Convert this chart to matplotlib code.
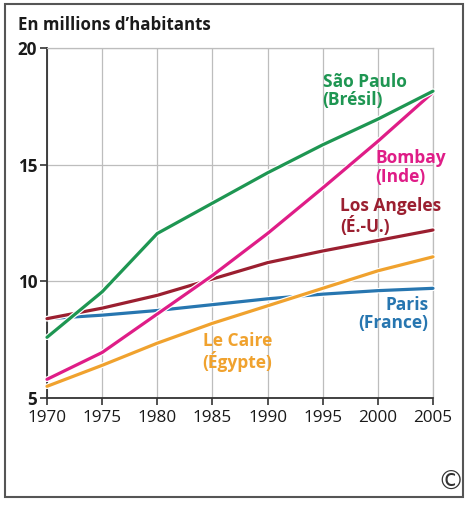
import matplotlib.pyplot as plt
import matplotlib.patheffects as pe
from matplotlib.patches import Rectangle

years = [1970, 1975, 1980, 1985, 1990, 1995, 2000, 2005]

# population, millions
sao_paulo = [7.6, 9.55, 12.05, 13.35, 14.65, 15.85, 16.95, 18.15]
bombay = [5.8, 6.95, 8.6, 10.25, 12.05, 14.0, 16.0, 18.1]
los_angeles = [8.4, 8.85, 9.4, 10.1, 10.8, 11.3, 11.75, 12.2]
paris = [8.4, 8.55, 8.75, 9.0, 9.25, 9.45, 9.6, 9.7]
le_caire = [5.5, 6.4, 7.35, 8.2, 8.95, 9.7, 10.45, 11.05]

green = '#1e9652'
magenta = '#df1d87'
darkred = '#9b1f30'
blue = '#2776b0'
orange = '#f0a22e'

plt.rcParams['font.family'] = ['Open Sans', 'DejaVu Sans']

fig = plt.figure(figsize=(4.71, 5.05), dpi=100)
ax = fig.add_axes([0.0998, 0.2119, 0.8195, 0.6931])

halo = [pe.Stroke(linewidth=4.0, foreground='white'), pe.Normal()]
series = [(paris, blue), (le_caire, orange), (los_angeles, darkred),
          (bombay, magenta), (sao_paulo, green)]
for vals, col in series:
    ax.plot(years, vals, color=col, lw=2.3, solid_capstyle='round',
            path_effects=halo, zorder=3, clip_on=False)

ax.set_xlim(1970, 2005)
ax.set_ylim(5, 20)
ax.set_xticks(years)
ax.set_yticks([5, 10, 15, 20])
ax.grid(True, color='#bdbdbd', lw=0.9)
ax.set_axisbelow(True)
for s in ['top', 'right']:
    ax.spines[s].set_color('#bdbdbd')
    ax.spines[s].set_linewidth(0.9)
for s in ['left', 'bottom']:
    ax.spines[s].set_color('#333333')
    ax.spines[s].set_linewidth(1.3)
ax.tick_params(length=5, width=1.2, color='#333333')
ax.tick_params(axis='x', labelsize=12.3, labelcolor='#1a1a1a', pad=4)
ax.tick_params(axis='y', labelsize=12.3, labelcolor='#1a1a1a', pad=2)
for t in ax.get_yticklabels():
    t.set_fontweight('bold')

kw = dict(fontsize=12.5, fontweight='bold', linespacing=1.05)
ax.text(1995.0, 18.15, 'São Paulo\n(Brésil)', color=green, ha='left', va='center', **kw)
ax.text(1999.8, 14.87, 'Bombay\n(Inde)', color=magenta, ha='left', va='center', **kw)
ax.text(1996.6, 12.78, 'Los Angeles\n(É.-U.)', color=darkred, ha='left', va='center', **kw)
ax.text(2004.6, 8.6, 'Paris\n(France)', color=blue, ha='right', va='center', **kw)
ax.text(1984.1, 6.97, 'Le Caire\n(Égypte)', color=orange, ha='left', va='center', **kw)

fig.text(18 / 471, 1 - 25 / 505, 'En millions d\u2019habitants', fontsize=12.2,
         fontweight='bold', color='#1a1a1a', va='center', ha='left')
fig.text(451 / 471, 1 - 483 / 505, '\u00a9', fontsize=19, color='#333333',
         va='center', ha='center', family=['DejaVu Sans'])

fig.patches.append(Rectangle((5 / 471, 1 - 497 / 505), 458 / 471, 493 / 505,
                             transform=fig.transFigure, fill=False,
                             edgecolor='#555555', lw=1.5))

fig.savefig('out.png', dpi=100)
